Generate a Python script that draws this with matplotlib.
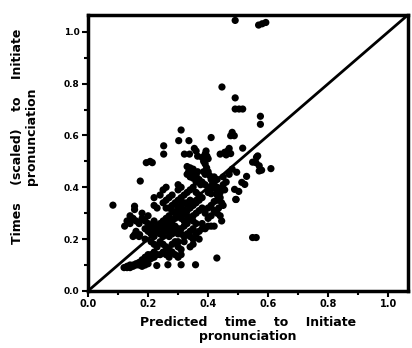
import matplotlib
matplotlib.use('Agg')
import matplotlib.pyplot as plt
from matplotlib.ticker import MultipleLocator

# Pontos estimados a partir da figura (tempo previsto x tempo observado)
pred_x = [
    0.49, 0.568, 0.58, 0.592, 0.446, 0.49, 0.49, 0.503, 0.515, 0.574, 0.574,
    0.48, 0.475, 0.487, 0.31, 0.41, 0.252, 0.252, 0.302, 0.336, 0.354, 0.321, 0.338,
    0.194, 0.207, 0.214, 0.174, 0.083, 0.122, 0.155, 0.155, 0.548, 0.56, 0.429,
    0.358, 0.31, 0.266, 0.229, 0.493, 0.609, 0.57, 0.57, 0.565, 0.559,
    0.515, 0.561, 0.548, 0.578, 0.495, 0.528, 0.512, 0.522, 0.488, 0.502, 0.492,
    0.44, 0.455, 0.465, 0.475, 0.47, 0.46, 0.39, 0.396, 0.40, 0.36, 0.365, 0.393,
    0.33, 0.34, 0.35, 0.335, 0.345, 0.355, 0.34, 0.35, 0.36, 0.37, 0.36, 0.365, 0.33, 0.375,
    0.38, 0.385, 0.39, 0.395, 0.40, 0.405, 0.41, 0.415, 0.42, 0.43, 0.39, 0.385,
    0.38, 0.39, 0.40, 0.41, 0.42, 0.43, 0.44, 0.40, 0.41, 0.43, 0.44, 0.45, 0.455,
    0.46, 0.45, 0.47, 0.48, 0.43, 0.42,
    0.44, 0.445, 0.43, 0.45, 0.435, 0.44, 0.445, 0.43,
    0.42, 0.41, 0.40, 0.39, 0.38, 0.40, 0.41, 0.42, 0.39, 0.40, 0.41, 0.42,
    0.28, 0.29, 0.30, 0.31, 0.32, 0.33, 0.34, 0.35, 0.36, 0.37, 0.30, 0.31, 0.32, 0.33,
    0.34, 0.35, 0.36, 0.37, 0.38, 0.33, 0.34, 0.31, 0.32, 0.29, 0.30, 0.31, 0.33, 0.35,
    0.36, 0.37, 0.38, 0.34, 0.35, 0.36, 0.32, 0.33,
    0.30, 0.30, 0.31, 0.27, 0.26, 0.25, 0.26, 0.27, 0.28, 0.24, 0.25, 0.22, 0.22, 0.23,
    0.26, 0.28,
    0.23, 0.24, 0.25, 0.26, 0.27, 0.25, 0.26, 0.27, 0.28, 0.29, 0.26, 0.27, 0.28, 0.29,
    0.30, 0.31, 0.32, 0.30, 0.31, 0.32, 0.33, 0.34, 0.35, 0.29, 0.28, 0.27, 0.24, 0.25, 0.23,
    0.18, 0.19, 0.20, 0.21, 0.22, 0.19, 0.20, 0.21, 0.17, 0.16, 0.15, 0.14, 0.13, 0.14,
    0.18, 0.20, 0.22, 0.16, 0.15, 0.17, 0.19, 0.21, 0.22, 0.155, 0.172, 0.15,
    0.24, 0.25, 0.26, 0.27, 0.28, 0.29, 0.30, 0.31, 0.28, 0.29, 0.30, 0.31, 0.27, 0.26,
    0.25, 0.23, 0.22, 0.24, 0.23, 0.30, 0.32,
    0.34, 0.35, 0.35, 0.34, 0.36, 0.37, 0.37, 0.38,
    0.12, 0.13, 0.14, 0.15, 0.16, 0.17, 0.18, 0.19, 0.20, 0.21, 0.22, 0.15, 0.17, 0.19,
    0.20, 0.18, 0.16, 0.14, 0.13, 0.21, 0.22, 0.20, 0.19, 0.18,
]
obs_y = [
    1.044, 1.026, 1.031, 1.036, 0.787, 0.745, 0.702, 0.702, 0.702, 0.674, 0.643,
    0.612, 0.599, 0.599, 0.621, 0.592, 0.56, 0.528, 0.58, 0.58, 0.55, 0.528, 0.528,
    0.495, 0.50, 0.495, 0.424, 0.331, 0.25, 0.314, 0.327, 0.206, 0.206, 0.127,
    0.101, 0.101, 0.101, 0.098, 0.353, 0.472, 0.463, 0.483, 0.521, 0.495,
    0.551, 0.516, 0.497, 0.466, 0.458, 0.442, 0.419, 0.411, 0.392, 0.384, 0.353,
    0.528, 0.535, 0.54, 0.53, 0.55, 0.525, 0.528, 0.52, 0.51, 0.54, 0.52, 0.54,
    0.48, 0.475, 0.47, 0.46, 0.455, 0.45, 0.44, 0.435, 0.445, 0.43, 0.42, 0.46, 0.45, 0.41,
    0.515, 0.50, 0.49, 0.475, 0.46, 0.445, 0.43, 0.415, 0.40, 0.385, 0.45, 0.46,
    0.42, 0.41, 0.40, 0.395, 0.41, 0.40, 0.395, 0.38, 0.375, 0.37, 0.38, 0.41, 0.39,
    0.42, 0.44, 0.45, 0.47, 0.43, 0.44,
    0.36, 0.34, 0.35, 0.33, 0.32, 0.29, 0.27, 0.30,
    0.25, 0.25, 0.25, 0.24, 0.26, 0.28, 0.29, 0.31, 0.30, 0.32, 0.33, 0.345,
    0.33, 0.34, 0.35, 0.36, 0.37, 0.38, 0.39, 0.40, 0.38, 0.37, 0.32, 0.31, 0.30, 0.31,
    0.32, 0.33, 0.34, 0.35, 0.36, 0.34, 0.35, 0.33, 0.34, 0.30, 0.29, 0.28, 0.29, 0.29,
    0.30, 0.31, 0.32, 0.28, 0.27, 0.26, 0.27, 0.26,
    0.41, 0.39, 0.40, 0.36, 0.35, 0.34, 0.32, 0.32, 0.31, 0.37, 0.39, 0.36, 0.33, 0.32,
    0.40, 0.37,
    0.25, 0.26, 0.27, 0.28, 0.29, 0.24, 0.25, 0.26, 0.27, 0.28, 0.23, 0.23, 0.22, 0.23,
    0.24, 0.24, 0.25, 0.22, 0.22, 0.21, 0.22, 0.23, 0.24, 0.25, 0.24, 0.21, 0.22, 0.21, 0.23,
    0.28, 0.27, 0.26, 0.25, 0.24, 0.24, 0.23, 0.22, 0.26, 0.27, 0.28, 0.29, 0.27, 0.26,
    0.30, 0.29, 0.27, 0.23, 0.21, 0.21, 0.20, 0.19, 0.21, 0.217, 0.217, 0.276,
    0.19, 0.18, 0.17, 0.16, 0.15, 0.14, 0.13, 0.14, 0.18, 0.19, 0.17, 0.16, 0.13, 0.14,
    0.15, 0.17, 0.18, 0.14, 0.14, 0.19, 0.19,
    0.17, 0.18, 0.20, 0.21, 0.22, 0.20, 0.23, 0.24,
    0.09, 0.09, 0.09, 0.095, 0.10, 0.10, 0.105, 0.11, 0.12, 0.125, 0.13, 0.10, 0.11, 0.13,
    0.14, 0.12, 0.105, 0.10, 0.095, 0.14, 0.15, 0.105, 0.10, 0.095,
]

x_ticks = [0.0, 0.2, 0.4, 0.6, 0.8, 1.0]
y_ticks = [0.0, 0.2, 0.4, 0.6, 0.8, 1.0]
x_tick_labels = ['0.0', '0.2', '0.4', '0.6', '0.8', '1.0']
y_tick_labels = ['0.0', '0.2', '0.4', '0.6', '0.8', '1.0']
axis_max = 1.065

plt.rcParams.update({'font.family': ['DejaVu Sans'], 'font.weight': 'bold'})

fig = plt.figure(figsize=(4.12, 3.48), dpi=100)
ax = fig.add_axes([0.2136, 0.164, 0.7764, 0.793])

ax.scatter(pred_x, obs_y, s=27, color='black', edgecolors='none', zorder=3)
ax.plot([0, axis_max], [0, axis_max], color='black', linewidth=2.0, zorder=2)

ax.set_xlim(0, axis_max)
ax.set_ylim(0, axis_max)
ax.set_xticks(x_ticks)
ax.set_xticklabels(x_tick_labels, fontsize=7, fontweight='bold')
ax.set_yticks(y_ticks)
ax.set_yticklabels(y_tick_labels, fontsize=6.5, fontweight='bold')
ax.xaxis.set_minor_locator(MultipleLocator(0.1))
ax.yaxis.set_minor_locator(MultipleLocator(0.1))
ax.tick_params(which='both', direction='out', width=1.5, color='black')
ax.tick_params(which='major', length=4, pad=2)
ax.tick_params(which='minor', length=3)

for spine in ax.spines.values():
    spine.set_linewidth(2.5)
    spine.set_color('black')

ax.set_xlabel('Predicted    time    to    Initiate\npronunciation',
              fontsize=9, fontweight='bold', linespacing=1.05, labelpad=5)
ax.set_ylabel('Times    (scaled)    to    Initiate\npronunciation',
              fontsize=9, fontweight='bold', linespacing=1.15, labelpad=16)
ax.yaxis.set_label_coords(-0.155, 0.56)

fig.savefig('out.png', dpi=100)
